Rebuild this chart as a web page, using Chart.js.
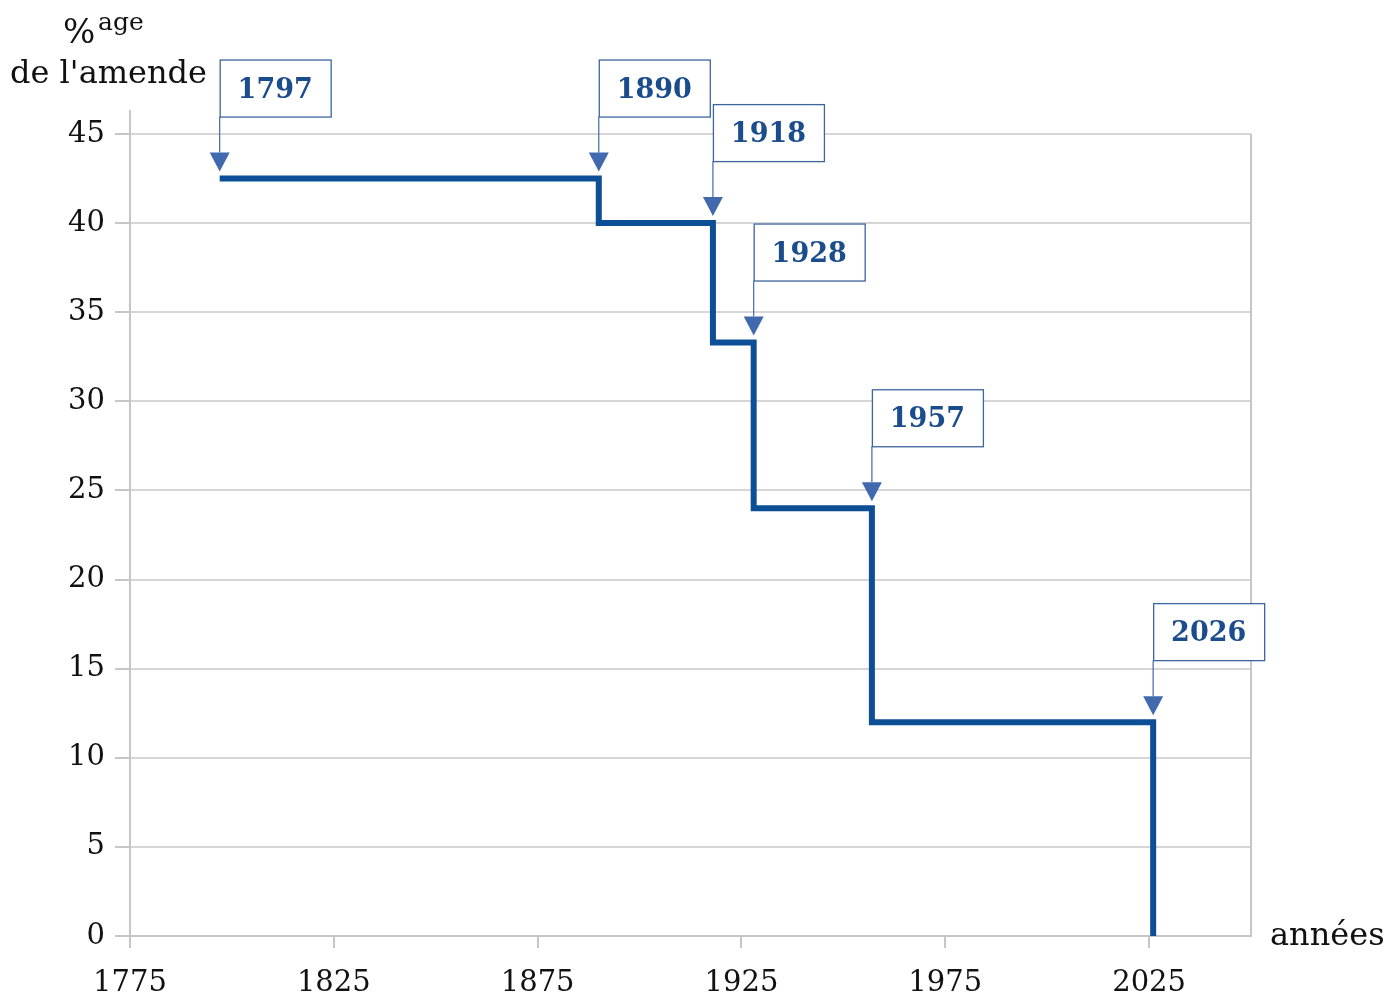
<!DOCTYPE html>
<html>
<head>
<meta charset="utf-8">
<script src="https://cdn.jsdelivr.net/npm/chart.js@4"></script>
<style>
  body { margin: 0; background: #fff; }
  #wrap { width: 1389px; height: 996px; position: relative; }
</style>
</head>
<body>
<div id="wrap"><canvas id="stepchart"></canvas></div>
<script>
// années des changements et taux en vigueur à partir de ces années
var years = [1797, 1890, 1918, 1928, 1957, 2026];
var rates = [42.5, 40, 33.3, 24, 12, 0];
var xTicks = [1775, 1825, 1875, 1925, 1975, 2025];
var xMin = 1775, xMax = 2050;
var yMax = 45, yStep = 5;

var lineColor = "#0d4f96";
var arrowColor = "#4169ad";
var labelColor = "#1b4c8c";
var gridColor = "#d6d6d6";
var axisColor = "#c6c6c6";
var serif = "'DejaVu Serif', serif";

var points = [];
for (var i = 0; i < years.length; i++) {
  points.push({ x: years[i], y: rates[i] });
}

// boîtes avec l'année et flèche vers le coin de la marche
var annotations = {
  id: "annotations",
  afterDatasetsDraw: function(chart) {
    var ctx = chart.ctx;
    var xs = chart.scales.x;
    var ys = chart.scales.y;
    var area = chart.chartArea;

    ctx.save();
    // bord droit et prolongement de l'axe vertical
    ctx.strokeStyle = axisColor;
    ctx.lineWidth = 2;
    ctx.beginPath();
    ctx.moveTo(area.right, area.top);
    ctx.lineTo(area.right, area.bottom);
    ctx.moveTo(area.left, area.top - 24);
    ctx.lineTo(area.left, area.top);
    ctx.stroke();

    for (var i = 0; i < years.length; i++) {
      var px = xs.getPixelForValue(years[i]);
      var py = ys.getPixelForValue(rates[Math.max(i - 1, 0)]);
      var tip = py - 7;
      var boxTop = tip - 112;
      var boxBottom = tip - 55;

      ctx.strokeStyle = arrowColor;
      ctx.lineWidth = 1.2;
      ctx.beginPath();
      ctx.moveTo(px, boxBottom);
      ctx.lineTo(px, tip - 19);
      ctx.stroke();

      ctx.fillStyle = arrowColor;
      ctx.beginPath();
      ctx.moveTo(px - 10, tip - 19);
      ctx.lineTo(px + 10, tip - 19);
      ctx.lineTo(px, tip);
      ctx.closePath();
      ctx.fill();

      ctx.fillStyle = "#fff";
      ctx.fillRect(px, boxTop, 111, 57);
      ctx.strokeStyle = "#3d659f";
      ctx.lineWidth = 1.3;
      ctx.strokeRect(px + 0.5, boxTop + 0.5, 111, 57);

      ctx.fillStyle = labelColor;
      ctx.font = "bold 27px " + serif;
      ctx.textAlign = "center";
      ctx.textBaseline = "middle";
      ctx.fillText(String(years[i]), px + 55.5, boxTop + 31);
    }
    ctx.restore();
  },
  afterDraw: function(chart) {
    var ctx = chart.ctx;
    ctx.save();
    ctx.fillStyle = "#111";
    ctx.textBaseline = "alphabetic";
    ctx.textAlign = "left";
    ctx.font = "34px " + serif;
    ctx.fillText("%", 63, 43);
    ctx.font = "25px " + serif;
    ctx.fillText("age", 98, 30);
    ctx.font = "32px " + serif;
    ctx.fillText("de l'amende", 10, 83);
    ctx.fillText("années", 1270, 945);
    ctx.restore();
  }
};

var ctx = document.getElementById("stepchart");

var chart = new Chart(ctx, {
  type: "line",
  data: {
    datasets: [
      {
        label: "%age de l'amende",
        data: points,
        borderColor: lineColor,
        backgroundColor: lineColor,
        borderWidth: 6,
        stepped: "before",
        fill: false,
        pointRadius: 0,
        borderJoinStyle: "miter",
        borderCapStyle: "butt"
      }
    ]
  },
  options: {
    responsive: true,
    maintainAspectRatio: false,
    animation: false,
    layout: {
      padding: { top: 134, right: 138, left: 0, bottom: 0 }
    },
    plugins: {
      legend: { display: false },
      tooltip: { enabled: false }
    },
    scales: {
      x: {
        type: "linear",
        min: xMin,
        max: xMax,
        afterBuildTicks: function(scale) {
          scale.ticks = xTicks.map(function(v) { return { value: v }; });
        },
        afterFit: function(scale) { scale.height = 60; },
        grid: {
          drawOnChartArea: false,
          color: axisColor,
          lineWidth: 2,
          tickLength: 12
        },
        border: { color: axisColor, width: 2 },
        ticks: {
          color: "#111",
          font: { family: serif, size: 29 },
          padding: 18,
          maxRotation: 0,
          autoSkip: false,
          callback: function(v) { return String(v); }
        }
      },
      y: {
        min: 0,
        max: yMax,
        afterFit: function(scale) { scale.width = 130; },
        grid: {
          color: gridColor,
          lineWidth: 2,
          tickLength: 15,
          tickColor: axisColor
        },
        border: { color: axisColor, width: 2 },
        ticks: {
          stepSize: yStep,
          color: "#111",
          font: { family: serif, size: 29 },
          padding: 10
        }
      }
    }
  },
  plugins: [annotations]
});
</script>
</body>
</html>
